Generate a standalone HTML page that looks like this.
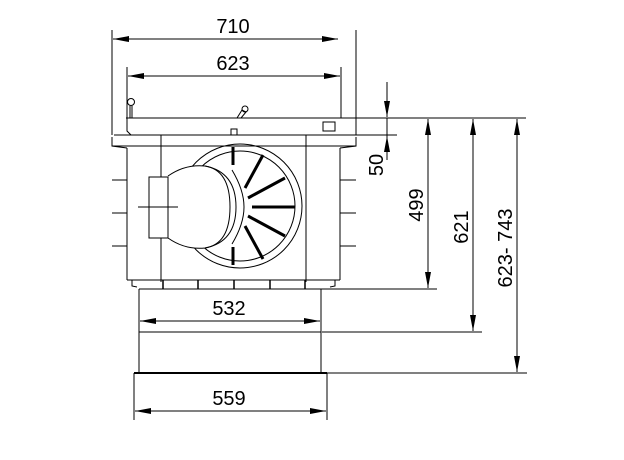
<!DOCTYPE html>
<html><head><style>body{margin:0;background:#fff}svg{display:block}</style></head><body>
<svg width="624" height="460" viewBox="0 0 624 460" xmlns="http://www.w3.org/2000/svg" font-family="Liberation Sans, sans-serif">
<defs><marker id="a" markerWidth="16" markerHeight="6" refX="16" refY="3" orient="auto" markerUnits="userSpaceOnUse"><path d="M0,0 L16,3 L0,6z" fill="#000"/></marker></defs>
<g stroke="#000" stroke-width="1" fill="none">
<line x1="112" y1="30" x2="112" y2="135"/><line x1="356" y1="30" x2="356" y2="135"/>
<line x1="130" y1="39" x2="338" y2="39" marker-end="url(#a)"/><line x1="338" y1="39" x2="113" y2="39" marker-end="url(#a)"/>
<line x1="127" y1="67" x2="127" y2="118"/><line x1="341" y1="67" x2="341" y2="118"/>
<line x1="145" y1="76" x2="340" y2="76" marker-end="url(#a)"/><line x1="330" y1="76" x2="128" y2="76" marker-end="url(#a)"/>
<line x1="126" y1="118" x2="526" y2="118"/>
<path d="M127,118 L127,131 L131,135"/>
<rect x="323" y="122" width="12" height="9"/>
<circle cx="131" cy="102" r="3.5"/><line x1="130" y1="106" x2="130" y2="118"/><line x1="132" y1="106" x2="132" y2="118"/>
<path d="M237,118 L242,110 L246,112 L241,118"/><circle cx="245" cy="109" r="3"/>
<rect x="231" y="129" width="6" height="6"/>
<path d="M114,135 L356,135 M112,137 L112,146 L127,148 M356,137 L356,146 L340,148"/>
<path d="M112,146 L356,146"/>
<line x1="127" y1="148" x2="127" y2="280"/><line x1="340" y1="148" x2="340" y2="280"/>
<line x1="161" y1="135" x2="161" y2="282"/><line x1="306" y1="135" x2="306" y2="282"/>
<line x1="127" y1="280" x2="340" y2="280"/>
<path d="M132,280 L132,286 L137,287 M335,280 L335,286 L330,287"/>
<path d="M139,289 L322,289"/>
<g stroke-width="1.5"><line x1="163" y1="280" x2="163" y2="289"/><line x1="198" y1="280" x2="198" y2="289"/><line x1="234" y1="280" x2="234" y2="289"/><line x1="270" y1="280" x2="270" y2="289"/><line x1="305" y1="280" x2="305" y2="289"/></g>
<line x1="112" y1="180" x2="127" y2="180"/><line x1="112" y1="213" x2="127" y2="213"/><line x1="112" y1="246" x2="127" y2="246"/>
<line x1="340" y1="180" x2="356" y2="180"/><line x1="340" y1="213" x2="356" y2="213"/><line x1="340" y1="246" x2="356" y2="246"/>
<circle cx="240" cy="206" r="62"/><circle cx="240" cy="206" r="55"/>
<g stroke-width="3">
<line x1="233" y1="147" x2="233" y2="165"/><line x1="233" y1="247" x2="233" y2="265"/>
<line x1="263" y1="155" x2="245" y2="188"/><line x1="285" y1="178" x2="248" y2="198"/>
<line x1="295" y1="207" x2="252" y2="207"/><line x1="285" y1="236" x2="248" y2="216"/>
<line x1="263" y1="259" x2="245" y2="226"/>
</g>
<path d="M168,176 Q185,164 205,166 Q236,172 236,207 Q236,242 205,248 Q185,250 168,238" fill="#fff"/>
<path d="M205,166 Q230,170 230,207 Q230,244 205,248"/>
<path d="M232,170 Q244,190 244,207 Q244,224 232,244"/>
<rect x="149" y="177" width="19" height="61" fill="#fff"/>
<line x1="138" y1="207" x2="178" y2="207"/>
<line x1="139" y1="289" x2="139" y2="373"/><line x1="321" y1="289" x2="321" y2="373"/>
<line x1="139" y1="332" x2="321" y2="332"/>
<line x1="157" y1="321" x2="320" y2="321" marker-end="url(#a)"/><line x1="305" y1="321" x2="140" y2="321" marker-end="url(#a)"/>
<line x1="134" y1="373" x2="327" y2="373" stroke-width="2"/>
<line x1="134" y1="373" x2="134" y2="420"/><line x1="327" y1="373" x2="327" y2="420"/>
<line x1="152" y1="411" x2="326" y2="411" marker-end="url(#a)"/><line x1="310" y1="411" x2="135" y2="411" marker-end="url(#a)"/>
<line x1="340" y1="135" x2="397" y2="135"/>
<line x1="387" y1="82" x2="387" y2="117" marker-end="url(#a)"/><line x1="387" y1="160" x2="387" y2="136" marker-end="url(#a)"/><line x1="387" y1="118" x2="387" y2="140"/>
<line x1="322" y1="289" x2="437" y2="289"/>
<line x1="428" y1="140" x2="428" y2="119" marker-end="url(#a)"/><line x1="428" y1="130" x2="428" y2="288" marker-end="url(#a)"/>
<line x1="322" y1="332" x2="482" y2="332"/>
<line x1="473" y1="140" x2="473" y2="119" marker-end="url(#a)"/><line x1="473" y1="130" x2="473" y2="331" marker-end="url(#a)"/>
<line x1="327" y1="373" x2="527" y2="373"/>
<line x1="517" y1="140" x2="517" y2="119" marker-end="url(#a)"/><line x1="517" y1="130" x2="517" y2="372" marker-end="url(#a)"/>
</g>
<g font-size="20" fill="#000" text-anchor="middle">
<text x="233" y="33">710</text><text x="233" y="70">623</text>
<text x="229" y="315">532</text><text x="229" y="405">559</text>
<text transform="translate(383,165) rotate(-90)">50</text>
<text transform="translate(423,205) rotate(-90)">499</text>
<text transform="translate(468,227) rotate(-90)">621</text>
<text transform="translate(512,248) rotate(-90)">623- 743</text>
</g>
</svg>
</body></html>
